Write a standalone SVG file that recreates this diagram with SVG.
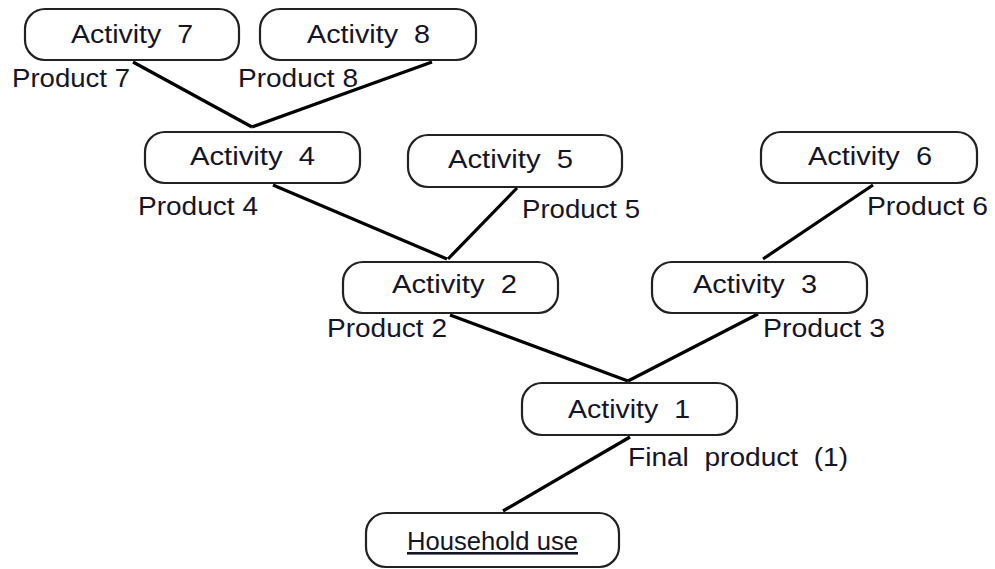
<svg xmlns="http://www.w3.org/2000/svg" width="995" height="569" viewBox="0 0 995 569">
<style>
.box{fill:#fff;stroke:#222;stroke-width:2.2}
.t{font-family:"Liberation Sans",Arial,sans-serif;font-size:26px;fill:#15152a;white-space:pre}
.c line{stroke:#000;stroke-width:3.2;stroke-linecap:butt}
</style>
<rect width="995" height="569" fill="#fff"/>
<g class="c" id="connectors">
<line x1="133" y1="62" x2="252" y2="127"/>
<line x1="432" y1="62" x2="252" y2="127"/>
<line x1="273" y1="185" x2="447" y2="259"/>
<line x1="517" y1="188" x2="448" y2="259"/>
<line x1="873" y1="185" x2="763" y2="259"/>
<line x1="450" y1="315" x2="628" y2="381"/>
<line x1="758" y1="314" x2="628" y2="381"/>
<line x1="630" y1="437" x2="503" y2="511"/>
</g>
<g id="a7"><rect class="box" x="25" y="9" width="214" height="51" rx="20"/><text class="t" x="71" y="43" textLength="122" lengthAdjust="spacingAndGlyphs">Activity  7</text></g>
<g id="a8"><rect class="box" x="260" y="9" width="216" height="51" rx="20"/><text class="t" x="307" y="43" textLength="123" lengthAdjust="spacingAndGlyphs">Activity  8</text></g>
<g id="a4"><rect class="box" x="145" y="132" width="215" height="51" rx="20"/><text class="t" x="190" y="165" textLength="125" lengthAdjust="spacingAndGlyphs">Activity  4</text></g>
<g id="a5"><rect class="box" x="408" y="135" width="214" height="52" rx="20"/><text class="t" x="448" y="168" textLength="125" lengthAdjust="spacingAndGlyphs">Activity  5</text></g>
<g id="a6"><rect class="box" x="761" y="132" width="216" height="51" rx="20"/><text class="t" x="808" y="165" textLength="124" lengthAdjust="spacingAndGlyphs">Activity  6</text></g>
<g id="a2"><rect class="box" x="343" y="262" width="215" height="51" rx="20"/><text class="t" x="392" y="293" textLength="125" lengthAdjust="spacingAndGlyphs">Activity  2</text></g>
<g id="a3"><rect class="box" x="652" y="262" width="215" height="51" rx="20"/><text class="t" x="693" y="293" textLength="124" lengthAdjust="spacingAndGlyphs">Activity  3</text></g>
<g id="a1"><rect class="box" x="522" y="383" width="215" height="52" rx="20"/><text class="t" x="568" y="418" textLength="122" lengthAdjust="spacingAndGlyphs">Activity  1</text></g>
<g id="household"><rect class="box" x="366" y="513" width="253" height="54" rx="20"/><text class="t" x="407" y="550" textLength="171" lengthAdjust="spacingAndGlyphs" text-decoration="underline">Household use</text></g>
<g id="labels">
<text class="t" x="12" y="87" textLength="118" lengthAdjust="spacingAndGlyphs">Product 7</text>
<text class="t" x="238" y="87" textLength="120" lengthAdjust="spacingAndGlyphs">Product 8</text>
<text class="t" x="138" y="215" textLength="120" lengthAdjust="spacingAndGlyphs">Product 4</text>
<text class="t" x="522" y="218" textLength="118" lengthAdjust="spacingAndGlyphs">Product 5</text>
<text class="t" x="867" y="215" textLength="121" lengthAdjust="spacingAndGlyphs">Product 6</text>
<text class="t" x="327" y="337" textLength="120" lengthAdjust="spacingAndGlyphs">Product 2</text>
<text class="t" x="763" y="337" textLength="122" lengthAdjust="spacingAndGlyphs">Product 3</text>
<text class="t" x="628" y="466" textLength="220" lengthAdjust="spacingAndGlyphs">Final  product  (1)</text>
</g>
</svg>
